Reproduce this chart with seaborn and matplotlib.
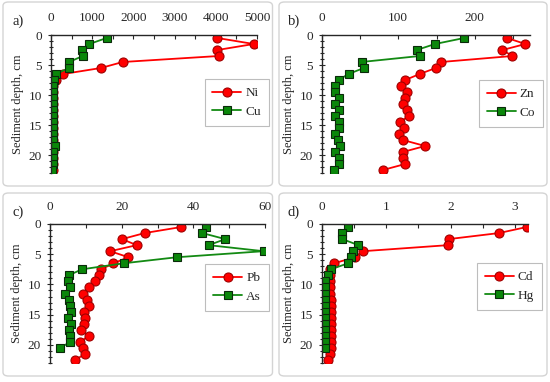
import numpy as np
import pandas as pd
import matplotlib
matplotlib.use('Agg')
import matplotlib.pyplot as plt
from matplotlib.patches import FancyBboxPatch
from matplotlib.ticker import MultipleLocator
import seaborn as sns

# depth of each sample (cm)
depth = [0.5, 1.5, 2.5, 3.5, 4.5, 5.5, 6.5, 7.5, 8.5, 9.5, 10.5, 11.5,
         12.5, 13.5, 14.5, 15.5, 16.5, 17.5, 18.5, 19.5, 20.5, 21.5, 22.5]

# a) Ni, Cu
ni = [4040, 4920, 4040, 4070, 1740, 1210, 300, 120, 60, 60, 60, 60,
      60, 60, 60, 60, 60, 60, 60, 60, 60, 60, 40]
cu = [1350, 930, 750, 770, 440, 440, 120, 80, 57, 57, 57, 57,
      57, 57, 57, 57, 57, 57, 97, 57, 57, 57, 32]
# b) Zn, Co
zn = [242, 266, 236, 249, 156, 149, 128, 109, 104, 111, 109, 106,
      111, 114, 102, 107, 101, 106, 135, 106, 106, 109, 80]
co = [186, 148, 124, 128, 52, 55, 35, 22, 18, 18, 22, 18,
      22, 18, 22, 22, 18, 21, 24, 18, 22, 22, 16]
# c) Pb, As
pb = [36.6, 26.4, 20.1, 24.2, 16.8, 21.9, 17.7, 14.3, 13.8, 12.5, 10.8, 9.2,
      10.2, 11.0, 9.6, 9.9, 9.4, 8.6, 10.8, 8.5, 9.2, 9.9, 6.9]
as_ = [43.4, 42.5, 48.9, 44.3, 59.6, 35.4, 20.6, 8.9, 5.2, 4.9, 5.7, 4.2,
       5.2, 5.5, 5.9, 4.9, 5.8, 5.2, 5.7, 5.7, 2.8]
# d) Cd, Hg
cd = [3.18, 2.75, 1.97, 1.96, 0.64, 0.52, 0.19, 0.13, 0.13, 0.13, 0.13, 0.13,
      0.14, 0.14, 0.14, 0.14, 0.14, 0.14, 0.14, 0.14, 0.14, 0.13, 0.09]
hg = [0.41, 0.32, 0.32, 0.57, 0.49, 0.45, 0.41, 0.14, 0.09, 0.05, 0.05, 0.05,
      0.05, 0.05, 0.05, 0.05, 0.05, 0.05, 0.05, 0.05, 0.05]

panels = [
    ('a)', 'Ni', ni, 'Cu', cu, 5000, 1000, 500),
    ('b)', 'Zn', zn, 'Co', co, 272, 100, 50),
    ('c)', 'Pb', pb, 'As', as_, 60, 20, 10),
    ('d)', 'Cd', cd, 'Hg', hg, 3.2, 1, 0.5),
]

sns.set_style('ticks')
plt.rcParams['font.family'] = ['Liberation Serif', 'DejaVu Serif']

W, H = 550, 382
fig = plt.figure(figsize=(W / 100, H / 100), dpi=100)

# axes boxes in pixels: left, right, top, bottom
boxes = [(51, 257, 35, 173), (321.7, 530, 35, 173),
         (50, 265, 224, 363), (321.7, 528, 224, 363)]
frames = [(3, 272.5, 2, 186), (279, 547, 2, 186),
          (3, 272.5, 193, 376), (279, 547, 193, 376)]
legpos = [(269, 79), (543, 80), (269, 264), (542, 263)]

for i, (tag, n1, v1, n2, v2, xmax, major, minor) in enumerate(panels):
    fl, fr, ft, fb = frames[i]
    fig.patches.append(FancyBboxPatch((fl / W, 1 - fb / H), (fr - fl) / W, (fb - ft) / H,
                                      boxstyle='round,pad=0,rounding_size=0.01',
                                      transform=fig.transFigure, fill=False,
                                      edgecolor='#d4d4d4', linewidth=1.0))
    l, r, t, b = boxes[i]
    ax = fig.add_axes([l / W, 1 - b / H, (r - l) / W, (b - t) / H])
    ax.patch.set_alpha(0)

    sns.lineplot(x=v1, y=depth[:len(v1)], sort=False, estimator=None, ax=ax,
                 color='#ff0000', linewidth=1.3, marker='o', markersize=6.5,
                 markerfacecolor='#ff0000', markeredgecolor='#a00000',
                 markeredgewidth=0.8, label=n1)
    sns.lineplot(x=v2, y=depth[:len(v2)], sort=False, estimator=None, ax=ax,
                 color='#138a13', linewidth=1.3, marker='s', markersize=5.5,
                 markerfacecolor='#0a870a', markeredgecolor='#0a2a0a',
                 markeredgewidth=0.8, label=n2)

    ax.set_xlim(0, xmax)
    ax.set_ylim(23, 0)
    ax.xaxis.tick_top()
    ax.xaxis.set_major_locator(MultipleLocator(major))
    ax.xaxis.set_minor_locator(MultipleLocator(minor))
    ax.yaxis.set_major_locator(MultipleLocator(5))
    ax.yaxis.set_minor_locator(MultipleLocator(1))
    ax.set_yticks([0, 5, 10, 15, 20])
    ax.spines['right'].set_visible(False)
    ax.spines['bottom'].set_visible(False)
    ax.spines['top'].set_linewidth(1.0)
    ax.spines['left'].set_linewidth(1.0)
    ax.tick_params(axis='x', which='both', direction='in', length=3, width=0.8,
                   labelsize=9.5, pad=8)
    ax.tick_params(axis='y', which='major', direction='inout', length=5, width=0.8,
                   labelsize=9.5, pad=4)
    ax.tick_params(axis='y', which='minor', direction='inout', length=3, width=0.8)
    ax.set_xlabel('')
    ax.set_ylabel('Sediment depth, cm', fontsize=9, labelpad=3)
    ax.grid(False)

    lx, ly = legpos[i]
    leg = ax.legend(loc='upper right', bbox_to_anchor=(lx / W, 1 - ly / H),
                    bbox_transform=fig.transFigure, borderaxespad=0,
                    fancybox=False, framealpha=1, edgecolor='#bdbdbd',
                    fontsize=9.5, handlelength=2.2, handletextpad=0.3,
                    labelspacing=0.5, borderpad=0.6)
    leg.get_frame().set_linewidth(0.8)

    fig.text((fl + 9) / W, 1 - (ft + 19) / H, tag, fontsize=10.5, va='center', ha='left')

fig.savefig('out.png', dpi=100)
